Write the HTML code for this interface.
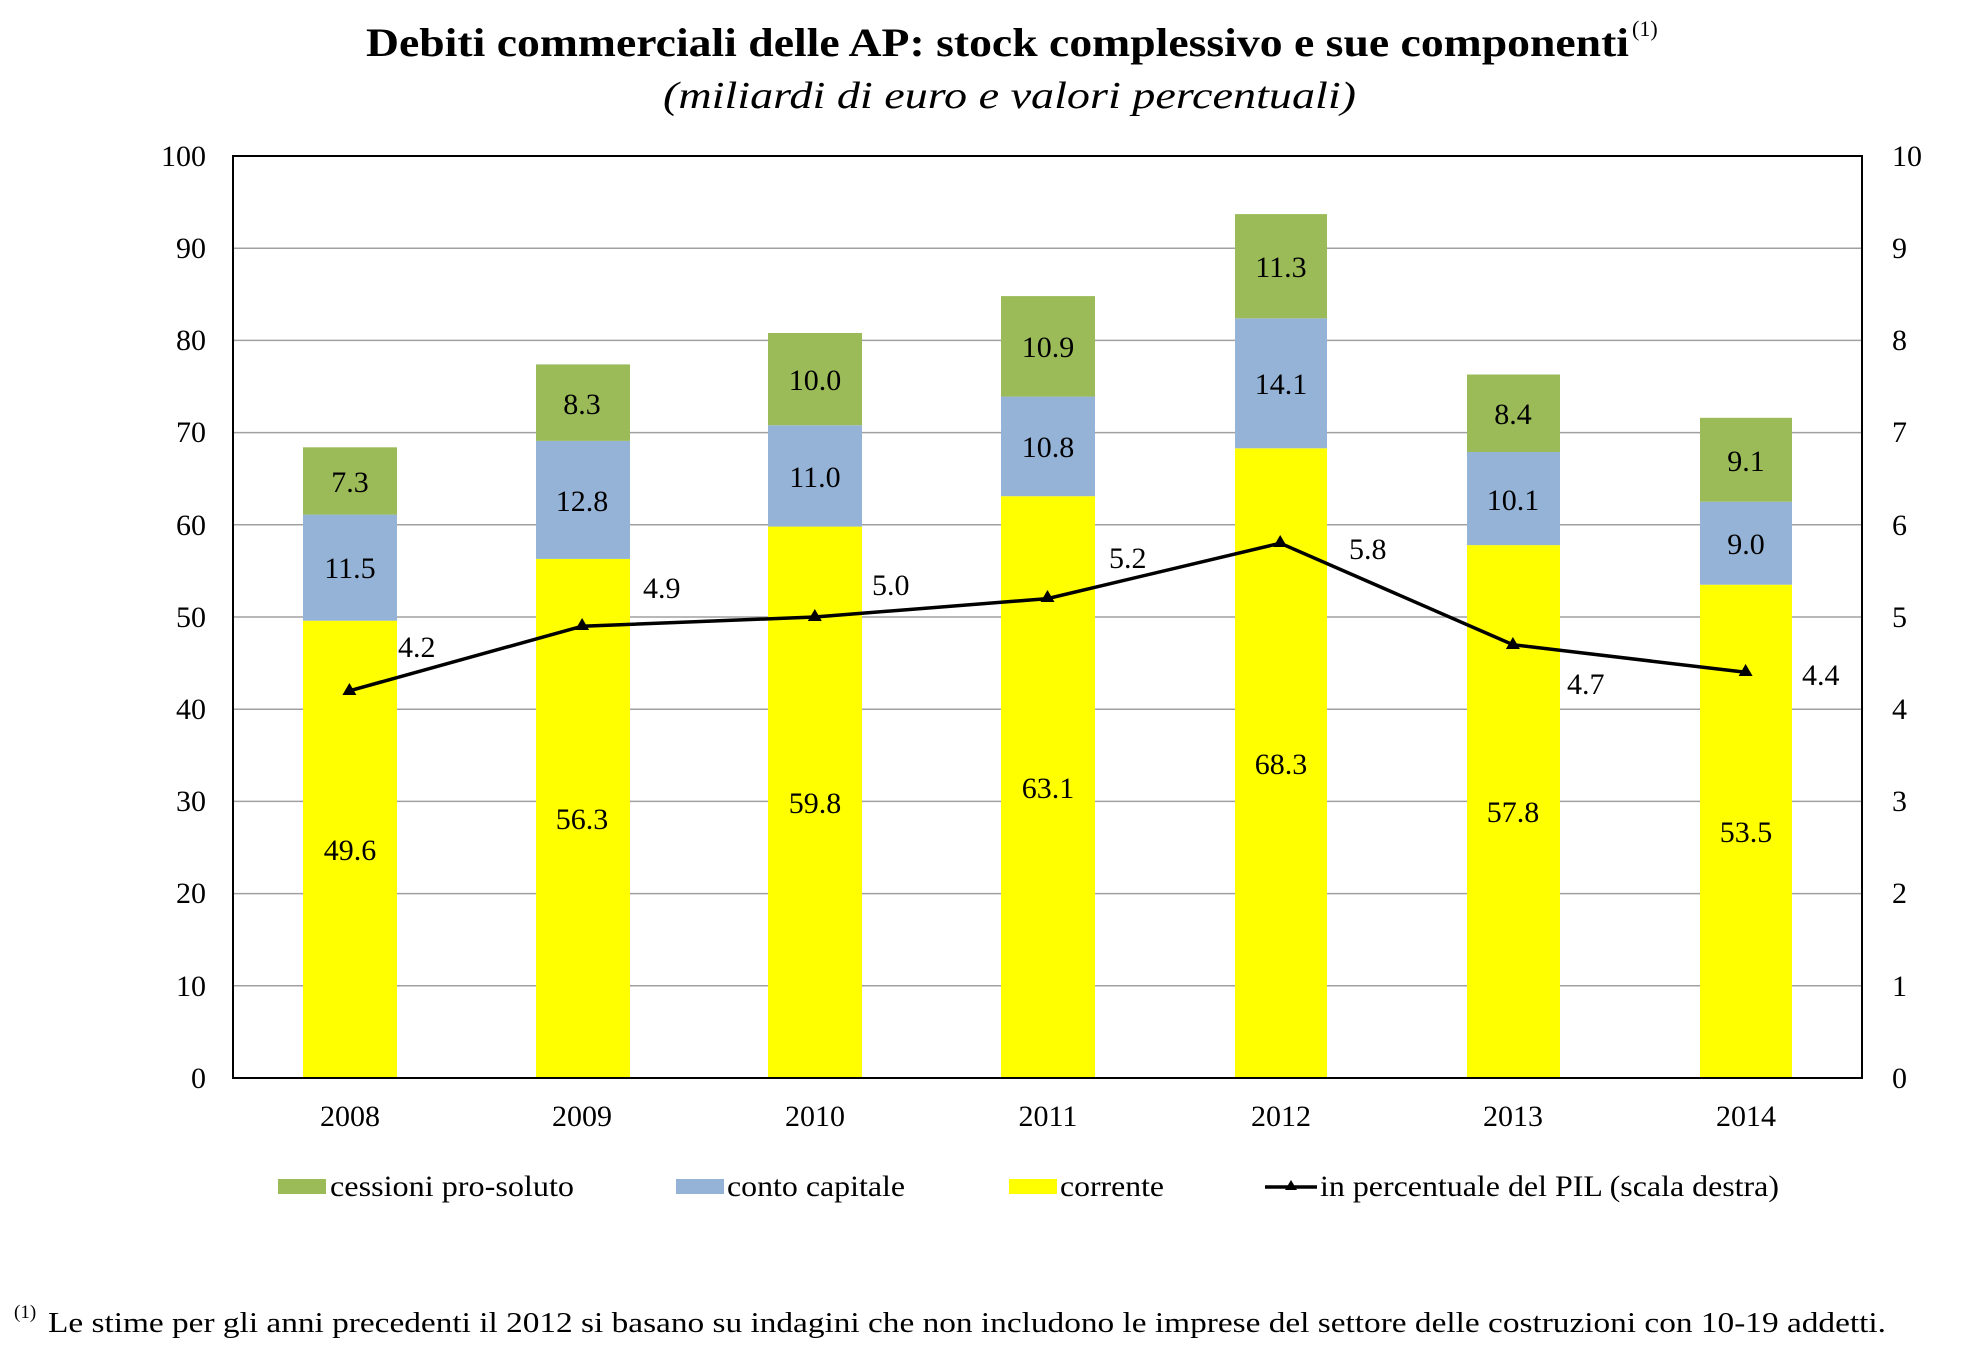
<!DOCTYPE html>
<html><head><meta charset="utf-8"><style>
html,body{margin:0;padding:0;background:#fff;}
svg{display:block;font-family:"Liberation Serif",serif;}
</style></head><body>
<svg width="1987" height="1350" viewBox="0 0 1987 1350" xmlns="http://www.w3.org/2000/svg">
<rect width="1987" height="1350" fill="#fff"/>
<text x="366" y="56" font-size="40" font-weight="bold" textLength="1263" lengthAdjust="spacingAndGlyphs">Debiti commerciali delle AP: stock complessivo e sue componenti</text>
<text x="1632" y="36" font-size="22">(1)</text>
<text x="663" y="108" font-size="38" font-style="italic" textLength="693" lengthAdjust="spacingAndGlyphs">(miliardi di euro e valori percentuali)</text>
<g stroke="#a0a0a0" stroke-width="1.5">
<line x1="233" y1="248.2" x2="1862" y2="248.2"/><line x1="233" y1="340.4" x2="1862" y2="340.4"/>
<line x1="233" y1="432.6" x2="1862" y2="432.6"/><line x1="233" y1="524.8" x2="1862" y2="524.8"/>
<line x1="233" y1="617" x2="1862" y2="617"/><line x1="233" y1="709.2" x2="1862" y2="709.2"/>
<line x1="233" y1="801.4" x2="1862" y2="801.4"/><line x1="233" y1="893.6" x2="1862" y2="893.6"/>
<line x1="233" y1="985.8" x2="1862" y2="985.8"/>
</g>
<rect x="233" y="156" width="1629" height="922" fill="none" stroke="#000" stroke-width="2"/>
<g font-size="30" text-anchor="end">
<text x="206" y="166">100</text><text x="206" y="258">90</text><text x="206" y="350">80</text>
<text x="206" y="442">70</text><text x="206" y="535">60</text><text x="206" y="627">50</text>
<text x="206" y="719">40</text><text x="206" y="811">30</text><text x="206" y="903">20</text>
<text x="206" y="996">10</text><text x="206" y="1088">0</text>
</g>
<g font-size="30">
<text x="1892" y="166">10</text><text x="1892" y="258">9</text><text x="1892" y="350">8</text>
<text x="1892" y="442">7</text><text x="1892" y="535">6</text><text x="1892" y="627">5</text>
<text x="1892" y="719">4</text><text x="1892" y="811">3</text><text x="1892" y="903">2</text>
<text x="1892" y="996">1</text><text x="1892" y="1088">0</text>
</g>
<g id="bars">
<rect x="303" y="620.7" width="94" height="457.3" fill="#ffff00"/>
<rect x="303" y="514.6" width="94" height="106.1" fill="#95b3d7"/>
<rect x="303" y="447.3" width="94" height="67.3" fill="#9bbb59"/>
<rect x="536" y="558.9" width="94" height="519.1" fill="#ffff00"/>
<rect x="536" y="440.9" width="94" height="118" fill="#95b3d7"/>
<rect x="536" y="364.4" width="94" height="76.5" fill="#9bbb59"/>
<rect x="768" y="526.6" width="94" height="551.4" fill="#ffff00"/>
<rect x="768" y="425.2" width="94" height="101.4" fill="#95b3d7"/>
<rect x="768" y="333" width="94" height="92.2" fill="#9bbb59"/>
<rect x="1001" y="496.2" width="94" height="581.8" fill="#ffff00"/>
<rect x="1001" y="396.6" width="94" height="99.6" fill="#95b3d7"/>
<rect x="1001" y="296.1" width="94" height="100.5" fill="#9bbb59"/>
<rect x="1235" y="448.3" width="92" height="629.7" fill="#ffff00"/>
<rect x="1235" y="318.3" width="92" height="130" fill="#95b3d7"/>
<rect x="1235" y="214.1" width="92" height="104.2" fill="#9bbb59"/>
<rect x="1467" y="545.1" width="93" height="532.9" fill="#ffff00"/>
<rect x="1467" y="452" width="93" height="93.1" fill="#95b3d7"/>
<rect x="1467" y="374.5" width="93" height="77.5" fill="#9bbb59"/>
<rect x="1700" y="584.7" width="92" height="493.3" fill="#ffff00"/>
<rect x="1700" y="501.7" width="92" height="83" fill="#95b3d7"/>
<rect x="1700" y="417.8" width="92" height="83.9" fill="#9bbb59"/>
</g>
<line x1="233" y1="1078" x2="1862" y2="1078" stroke="#000" stroke-width="2"/>
<g font-size="30" text-anchor="middle">
<text x="350" y="860">49.6</text><text x="350" y="578">11.5</text><text x="350" y="492">7.3</text>
<text x="582" y="829">56.3</text><text x="582" y="511">12.8</text><text x="582" y="414">8.3</text>
<text x="815" y="813">59.8</text><text x="815" y="487">11.0</text><text x="815" y="390">10.0</text>
<text x="1048" y="798">63.1</text><text x="1048" y="457">10.8</text><text x="1048" y="357">10.9</text>
<text x="1281" y="774">68.3</text><text x="1281" y="394">14.1</text><text x="1281" y="277">11.3</text>
<text x="1513" y="822">57.8</text><text x="1513" y="510">10.1</text><text x="1513" y="424">8.4</text>
<text x="1746" y="842">53.5</text><text x="1746" y="554">9.0</text><text x="1746" y="471">9.1</text>
</g>
<polyline points="349.4,690.8 582.1,626.2 814.8,617 1047.5,598.6 1280.2,543.2 1512.9,644.7 1745.6,672.3" fill="none" stroke="#000" stroke-width="3.5"/>
<g fill="#000">
<polygon points="349.4,683 342.4,695 356.4,695"/>
<polygon points="582.1,618 575.1,630 589.1,630"/>
<polygon points="814.8,609 807.8,621 821.8,621"/>
<polygon points="1047.5,590 1040.5,602 1054.5,602"/>
<polygon points="1280.2,535 1273.2,547 1287.2,547"/>
<polygon points="1512.9,637 1505.9,649 1519.9,649"/>
<polygon points="1745.6,664 1738.6,676 1752.6,676"/>
</g>
<g font-size="30">
<text x="398" y="657">4.2</text><text x="643" y="598">4.9</text><text x="872" y="595">5.0</text>
<text x="1109" y="568">5.2</text><text x="1349" y="559">5.8</text><text x="1567" y="694">4.7</text>
<text x="1802" y="685">4.4</text>
</g>
<g font-size="30" text-anchor="middle">
<text x="350" y="1126">2008</text><text x="582" y="1126">2009</text><text x="815" y="1126">2010</text>
<text x="1048" y="1126">2011</text><text x="1281" y="1126">2012</text><text x="1513" y="1126">2013</text>
<text x="1746" y="1126">2014</text>
</g>
<rect x="278" y="1179" width="48" height="15" fill="#9bbb59"/>
<text x="330" y="1196" font-size="30" textLength="244" lengthAdjust="spacingAndGlyphs">cessioni pro-soluto</text>
<rect x="676" y="1179" width="48" height="15" fill="#95b3d7"/>
<text x="727" y="1196" font-size="30" textLength="178" lengthAdjust="spacingAndGlyphs">conto capitale</text>
<rect x="1009" y="1179" width="48" height="15" fill="#ffff00"/>
<text x="1060" y="1196" font-size="30" textLength="104" lengthAdjust="spacingAndGlyphs">corrente</text>
<line x1="1265" y1="1187" x2="1317" y2="1187" stroke="#000" stroke-width="3.5"/>
<polygon points="1291,1180 1285,1190 1297,1190" fill="#000"/>
<text x="1320" y="1196" font-size="30" textLength="459" lengthAdjust="spacingAndGlyphs">in percentuale del PIL (scala destra)</text>
<text x="14" y="1318" font-size="19">(1)</text>
<text x="48" y="1332" font-size="28" textLength="1838" lengthAdjust="spacingAndGlyphs">Le stime per gli anni precedenti il 2012 si basano su indagini che non includono le imprese del settore delle costruzioni con 10-19 addetti.</text>
</svg>
</body></html>
